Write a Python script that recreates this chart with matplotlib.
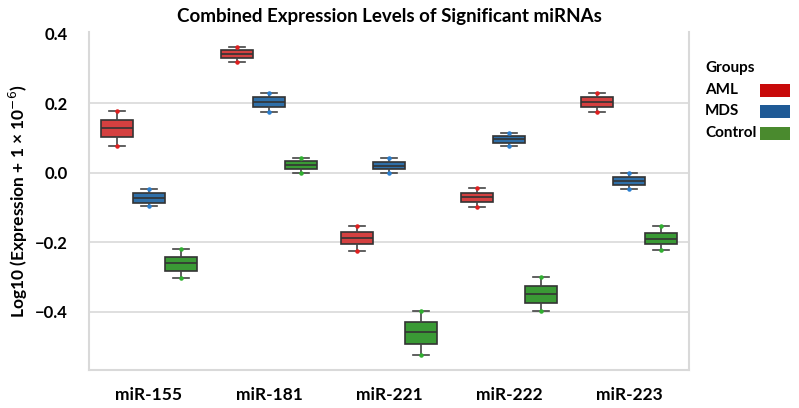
import numpy as np
import matplotlib.pyplot as plt
from matplotlib.patches import Rectangle

plt.rcParams['font.family'] = ['Lato', 'DejaVu Sans']

mirnas = ["miR-155", "miR-181", "miR-221", "miR-222", "miR-223"]
groups = ["AML", "MDS", "Control"]

# per group, per miRNA: (whislo, q1, med, q3, whishi)
aml = [(0.078, 0.102, 0.130, 0.152, 0.178),
       (0.319, 0.330, 0.342, 0.353, 0.363),
       (-0.224, -0.206, -0.189, -0.172, -0.153),
       (-0.099, -0.085, -0.071, -0.058, -0.045),
       (0.175, 0.189, 0.203, 0.218, 0.230)]
mds = [(-0.096, -0.086, -0.074, -0.058, -0.046),
       (0.175, 0.188, 0.203, 0.217, 0.230),
       (-0.001, 0.010, 0.020, 0.031, 0.042),
       (0.078, 0.086, 0.096, 0.106, 0.115),
       (-0.047, -0.035, -0.023, -0.012, 0.000)]
control = [(-0.302, -0.282, -0.259, -0.242, -0.220),
           (-0.001, 0.010, 0.021, 0.033, 0.042),
           (-0.524, -0.493, -0.460, -0.431, -0.397),
           (-0.398, -0.376, -0.350, -0.326, -0.301),
           (-0.222, -0.206, -0.190, -0.173, -0.153)]

box_colors = ["#d44040", "#2f6fa8", "#3a9a35"]
dot_colors = ["#e02020", "#2a7fd0", "#30b030"]
legend_colors = ["#c80a0a", "#1f5a96", "#4a8a2e"]

W, H = 799, 408
fig = plt.figure(figsize=(W / 100, H / 100), dpi=100)
ax = fig.add_axes([89 / W, 38 / H, 600 / W, 338 / H])

width = 0.8 / 3
for g, (data, col, dcol) in enumerate(zip([aml, mds, control], box_colors, dot_colors)):
    stats = []
    for lo, q1, med, q3, hi in data:
        stats.append(dict(whislo=lo, q1=q1, med=med, q3=q3, whishi=hi, fliers=[]))
    pos = np.arange(len(mirnas)) + (g - 1) * width
    ax.bxp(stats, positions=pos, widths=width, patch_artist=True, showfliers=False,
           boxprops=dict(facecolor=col, edgecolor="#333333", linewidth=1.2),
           medianprops=dict(color="#333333", linewidth=1.2),
           whiskerprops=dict(color="#444444", linewidth=1.2),
           capprops=dict(color="#444444", linewidth=1.2),
           capwidths=width * 0.5)
    lows = [d[0] for d in data]
    highs = [d[4] for d in data]
    ax.scatter(pos, lows, s=5, color=dcol, zorder=5)
    ax.scatter(pos, highs, s=5, color=dcol, zorder=5)

ax.set_xlim(-0.5, len(mirnas) - 0.5)
ax.set_ylim(-0.568, 0.405)
ax.set_yticks([-0.4, -0.2, 0.0, 0.2, 0.4])
ax.set_yticklabels(["\u22120.4", "\u22120.2", "0.0", "0.2", "0.4"])
ax.set_xticks(range(len(mirnas)))
ax.set_xticklabels(mirnas)
ax.tick_params(axis="y", length=0, pad=15, labelsize=12)
ax.tick_params(axis="x", length=0, pad=12, labelsize=12.5)
for lab in ax.get_xticklabels() + ax.get_yticklabels():
    lab.set_fontweight("bold")

for v in [-0.4, -0.2, 0.0, 0.2]:
    ax.axhline(v, color="#dcdcdc", linewidth=1.3, zorder=0)

for s in ["left", "right", "bottom"]:
    ax.spines[s].set_color("#d9d9d9")
    ax.spines[s].set_linewidth(1.5)
ax.spines["top"].set_visible(False)

ax.set_title("Combined Expression Levels of Significant miRNAs",
             fontsize=13.5, fontweight="bold", pad=7)
fig.text(18 / W, 1 - 201 / H, "Log10 (Expression + 1 \u00d7 10$^{-6}$)", rotation=90,
         fontsize=12.5, fontweight="bold", ha="center", va="center")

# legend drawn by hand: text left, colour swatch right
fig.text(705 / W, 1 - 68 / H, "Groups", fontsize=11, fontweight="bold", va="center")
for i, (name, col) in enumerate(zip(groups, legend_colors)):
    yc = 90 + i * 21.5
    fig.text(705 / W, 1 - yc / H, name, fontsize=11, fontweight="bold", va="center")
    fig.patches.append(Rectangle((760 / W, 1 - (yc + 6.5) / H), 30 / W, 13 / H,
                                 transform=fig.transFigure, facecolor=col, edgecolor="none"))

fig.savefig("out.png", dpi=100)
